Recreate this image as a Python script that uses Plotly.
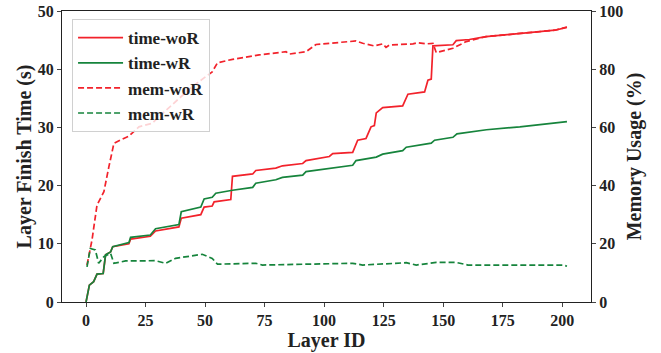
import plotly.graph_objects as go

# ---- data ----
time_woR_x = [0, 1.4, 3.2, 4.6, 7.2, 8.2, 10.3, 11.2, 18, 18.7, 27, 29.2, 39, 40, 48.2, 49.6, 53, 53.8,
              60.8, 61.5, 70, 71.3, 79.7, 82.5, 91, 92.4, 102.2, 103.6, 112, 114.1, 117.6, 119.7, 121.1,
              121.9, 124.6, 133, 135.2, 142.2, 143.6, 145, 145.7, 154.1, 155.5, 161, 168, 182.2, 196.9, 202]
time_woR_y = [0, 2.9, 3.5, 4.8, 4.9, 8.1, 8.6, 9.5, 10.0, 10.8, 11.3, 12.2, 12.9, 14.4, 15.0, 16.3, 16.5, 17.2,
              17.6, 21.6, 22.0, 22.6, 23.0, 23.4, 23.8, 24.3, 25.0, 25.5, 25.7, 27.8, 28.1, 30.1, 30.3,
              32.5, 33.4, 33.7, 35.7, 36.1, 38.1, 38.3, 44.0, 44.2, 44.9, 45.1, 45.6, 46.2, 46.7, 47.2]

time_wR_x = [0, 1.4, 3.2, 4.6, 7.2, 8.2, 10.3, 11.2, 18, 18.7, 27, 29.2, 39, 40, 48.2, 49.6, 53, 54.5,
             61.5, 70, 71.3, 79.7, 82.5, 91, 92.4, 103.6, 112, 113.4, 121.9, 124.6, 133, 134.5, 145,
             146.4, 154.1, 155.8, 168.2, 182.2, 196.9, 202]
time_wR_y = [0, 2.9, 3.5, 4.8, 4.9, 8.1, 8.6, 9.5, 10.2, 11.1, 11.5, 12.6, 13.3, 15.5, 16.3, 17.7, 18.0, 18.7,
             19.2, 19.7, 20.4, 21.0, 21.4, 21.8, 22.4, 23.0, 23.5, 24.3, 24.9, 25.4, 26.0, 26.6, 27.3,
             27.8, 28.3, 28.9, 29.6, 30.1, 30.7, 31.0]

mem_woR_x = [0.4, 2.5, 4.6, 7.5, 9.6, 11.7, 14.5, 18, 22.2, 27.8, 30.6, 44.6, 53, 55.2, 61.5, 72.7, 84, 85.3,
             92.4, 96.6, 106.4, 113.4, 116.2, 121.1, 124.6, 126, 127.4, 137.3, 139.4, 142.9, 145.7, 147.1,
             154.1, 159.7, 168, 182.2, 196.9, 202]
mem_woR_y = [12.7, 21.3, 33.3, 37.9, 46.5, 54.5, 55.7, 57, 60.2, 61.4, 63.7, 74, 79.1, 82.2, 83.4, 84.9, 86, 85.2,
             86, 88.5, 89.2, 89.7, 88.9, 88, 88.7, 87.5, 88.3, 88.7, 89.1, 88.7, 88.9, 85.7,
             87.2, 89.5, 91.2, 92.4, 93.4, 94.5]

mem_wR_x = [0.4, 1.8, 3.9, 5.3, 7.5, 10.3, 11.7, 16.6, 29.2, 33.4, 37.6, 48.8, 53, 55.2, 71.3, 74.1, 112,
            116.2, 134.5, 138.7, 147.1, 155.5, 160.4, 200.4, 202]
mem_wR_y = [12.1, 18.4, 17.9, 13.3, 15.6, 16.7, 13.3, 14.1, 14.2, 13.3, 15, 16.4, 15, 13, 13.3, 12.7, 13.3,
            12.7, 13.5, 12.7, 13.6, 13.6, 12.7, 12.7, 12.3]

x_ticks = [0, 25, 50, 75, 100, 125, 150, 175, 200]
left_ticks = [0, 10, 20, 30, 40, 50]
right_ticks = [0, 20, 40, 60, 80, 100]

RED = "#f2222b"
GREEN = "#16843c"
FONT = "Liberation Serif"

fig = go.Figure()
fig.add_trace(go.Scatter(x=time_woR_x, y=time_woR_y, mode="lines", name="time-woR",
                         line=dict(color=RED, width=1.7)))
fig.add_trace(go.Scatter(x=time_wR_x, y=time_wR_y, mode="lines", name="time-wR",
                         line=dict(color=GREEN, width=1.7)))
fig.add_trace(go.Scatter(x=mem_woR_x, y=mem_woR_y, mode="lines", name="mem-woR", yaxis="y2",
                         line=dict(color=RED, width=1.7, dash="6px,3px")))
fig.add_trace(go.Scatter(x=mem_wR_x, y=mem_wR_y, mode="lines", name="mem-wR", yaxis="y2",
                         line=dict(color=GREEN, width=1.7, dash="6px,3px")))

tickfont = dict(family=FONT, size=16, color="#222", weight="bold")
titlefont = dict(family=FONT, size=20, color="#222", weight="bold")

fig.update_layout(
    width=661, height=353,
    margin=dict(l=62, r=70, t=11, b=51, autoexpand=False),
    plot_bgcolor="white", paper_bgcolor="white",
    font=dict(family=FONT, color="#222"),
    showlegend=True,
    legend=dict(x=0.019, y=0.972, xanchor="left", yanchor="top",
                bgcolor="rgba(255,255,255,0.8)", bordercolor="#d0d0d0", borderwidth=1,
                font=dict(family=FONT, size=17, color="#222", weight="bold"),
                itemwidth=45, tracegroupgap=0),
    xaxis=dict(range=[-10.1, 212.1], tickvals=x_ticks, ticks="outside", ticklen=4,
               showline=True, linecolor="#222", linewidth=1, mirror=True, showgrid=False,
               zeroline=False, tickfont=tickfont, automargin=False,
               title=dict(text="Layer ID", font=titlefont, standoff=4)),
    yaxis=dict(range=[0, 50], tickvals=left_ticks, ticks="outside", ticklen=4,
               showline=True, linecolor="#222", linewidth=1, showgrid=False, zeroline=False,
               tickfont=tickfont, automargin=False,
               title=dict(text="Layer Finish Time (s)", font=titlefont, standoff=0)),
    yaxis2=dict(range=[0, 100], tickvals=right_ticks, ticks="outside", ticklen=4,
                overlaying="y", side="right",
                showline=True, linecolor="#222", linewidth=1, showgrid=False, zeroline=False,
                tickfont=tickfont, automargin=False,
                title=dict(text="Memory Usage (%)", font=titlefont, standoff=4)),
)

fig.write_html("out.html")
